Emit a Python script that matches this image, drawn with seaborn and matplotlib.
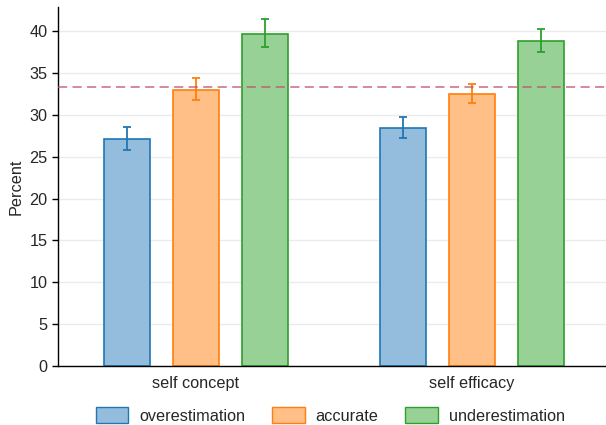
import numpy as np
import pandas as pd
import matplotlib
matplotlib.use("Agg")
import matplotlib.pyplot as plt
import seaborn as sns
from matplotlib.patches import Patch

# --- DATA ---
domains = ["self concept", "self efficacy"]
groups = ["overestimation", "accurate", "underestimation"]
percent = {
    "overestimation": [27.1, 28.5],
    "accurate": [33.0, 32.5],
    "underestimation": [39.7, 38.8],
}
ci_low = {
    "overestimation": [25.8, 27.3],
    "accurate": [31.8, 31.4],
    "underestimation": [38.1, 37.5],
}
ci_high = {
    "overestimation": [28.6, 29.8],
    "accurate": [34.4, 33.7],
    "underestimation": [41.5, 40.3],
}
chance_level = 100 / 3

edge_colors = ["#1f77b4", "#ff7f0e", "#2ca02c"]
fill_colors = ["#94bcdc", "#ffbf87", "#98d195"]

FS = 11.7

sns.set_style("white")
plt.rcParams['font.family'] = ['Liberation Sans', 'DejaVu Sans']
plt.rcParams['font.size'] = FS

rows = []
for g in groups:
    for i, d in enumerate(domains):
        rows.append({"domain": d, "group": g, "percent": percent[g][i]})
df = pd.DataFrame(rows)

fig = plt.figure(figsize=(6.06, 4.25), dpi=100)
ax = fig.add_axes([0.0957, 0.1388, 0.9043, 0.8447])

sns.barplot(data=df, x="domain", y="percent", hue="group", hue_order=groups,
            order=domains, palette=fill_colors, saturation=1, width=0.75, gap=0.333,
            errorbar=None, legend=False, ax=ax, zorder=2)

# colour edges and add error bars
for k, g in enumerate(groups):
    cont = ax.containers[k]
    for j, bar in enumerate(cont):
        bar.set_edgecolor(edge_colors[k])
        bar.set_linewidth(1.2)
        xc = bar.get_x() + bar.get_width() / 2
        y = percent[g][j]
        ax.errorbar(xc, y, yerr=[[y - ci_low[g][j]], [ci_high[g][j] - y]],
                    fmt='none', ecolor=edge_colors[k], elinewidth=1.3,
                    capsize=3.2, capthick=1.3, zorder=3)

ax.axhline(chance_level, color='#c0506e', lw=1.1, ls=(0, (6, 3.5)), alpha=0.85, zorder=4)

ax.set_ylim(0, 42.9)
ax.set_xlim(-0.5, 1.486)
ax.set_yticks(np.arange(0, 45, 5))
ax.yaxis.grid(True, color='#ebebeb', lw=1.0, zorder=0)
ax.set_axisbelow(True)
ax.set_xlabel('')
ax.set_ylabel('Percent', fontsize=FS, labelpad=4)
ax.tick_params(axis='y', length=4.5, width=1, pad=3, labelsize=FS, left=True, color='black')
ax.tick_params(axis='x', length=0, pad=7, labelsize=FS)

sns.despine(ax=ax, top=True, right=True)
for s in ['left', 'bottom']:
    ax.spines[s].set_color('black')
    ax.spines[s].set_linewidth(1.0)

handles = [Patch(facecolor=fill_colors[k], edgecolor=edge_colors[k], label=groups[k])
           for k in range(3)]
fig.legend(handles=handles, loc='center', bbox_to_anchor=(0.545, 0.022), ncol=3,
           frameon=False, fontsize=FS, handlelength=2.0, handleheight=1.1,
           columnspacing=1.65, handletextpad=0.68)

fig.savefig('out.png', dpi=100)
